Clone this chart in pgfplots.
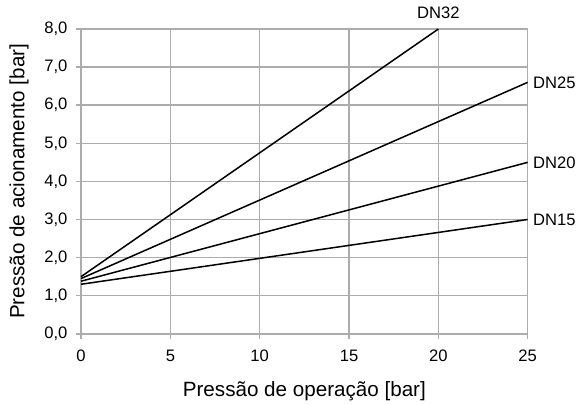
\documentclass[border=0pt]{standalone}
\usepackage{pgfplots}
\pgfplotsset{compat=1.18}
\usepackage{fontspec}
\setmainfont{Liberation Sans}
\definecolor{gridgray}{RGB}{172,172,172}
\begin{document}
\begin{tikzpicture}
\begin{axis}[
  scale only axis,
  width=444pt, height=303pt,
  xmin=0, xmax=25, ymin=0, ymax=8,
  xtick={0,5,...,25}, ytick={0,1,...,8},
  grid=major,
  grid style={gridgray, line width=1.5pt},
  axis line style={gridgray, line width=1.5pt},
  tick style={gridgray, line width=1.5pt},
  tick align=outside,
  xtick pos=bottom, ytick pos=left,
  major tick length=5pt,
  /pgf/number format/assume math mode=true,
  ticklabel style={font=\fontsize{16.5}{18}\selectfont, black},
  xticklabel style={yshift=-8pt},
  yticklabel style={xshift=-5pt, /pgf/number format/.cd, fixed, fixed zerofill, precision=1, use comma},
  xlabel={Pressão de operação [bar]},
  ylabel={Pressão de acionamento [bar]},
  every axis x label/.style={at={(axis description cs:0.5,-0.188)}, anchor=center, font=\fontsize{20.5}{23}\selectfont},
  every axis y label/.style={at={(axis description cs:-0.139,0.5)}, rotate=90, anchor=center, font=\fontsize{20.5}{23}\selectfont},
  clip=false,
]
\addplot[black, line width=1.5pt] coordinates {(0,1.5) (20,8.0)};
\addplot[black, line width=1.5pt] coordinates {(0,1.45) (25,6.6)};
\addplot[black, line width=1.5pt] coordinates {(0,1.38) (25,4.5)};
\addplot[black, line width=1.5pt] coordinates {(0,1.3) (25,3.0)};
\node[anchor=base, font=\fontsize{16.5}{18}\selectfont, yshift=10pt] at (axis cs:20,8) {DN32};
\node[anchor=west, font=\fontsize{16.5}{18}\selectfont, xshift=2pt] at (axis cs:25,6.6) {DN25};
\node[anchor=west, font=\fontsize{16.5}{18}\selectfont, xshift=2pt] at (axis cs:25,4.5) {DN20};
\node[anchor=west, font=\fontsize{16.5}{18}\selectfont, xshift=2pt] at (axis cs:25,3.0) {DN15};
\end{axis}
\path ([xshift=-6pt,yshift=4pt]current bounding box.north west);
\end{tikzpicture}
\end{document}
